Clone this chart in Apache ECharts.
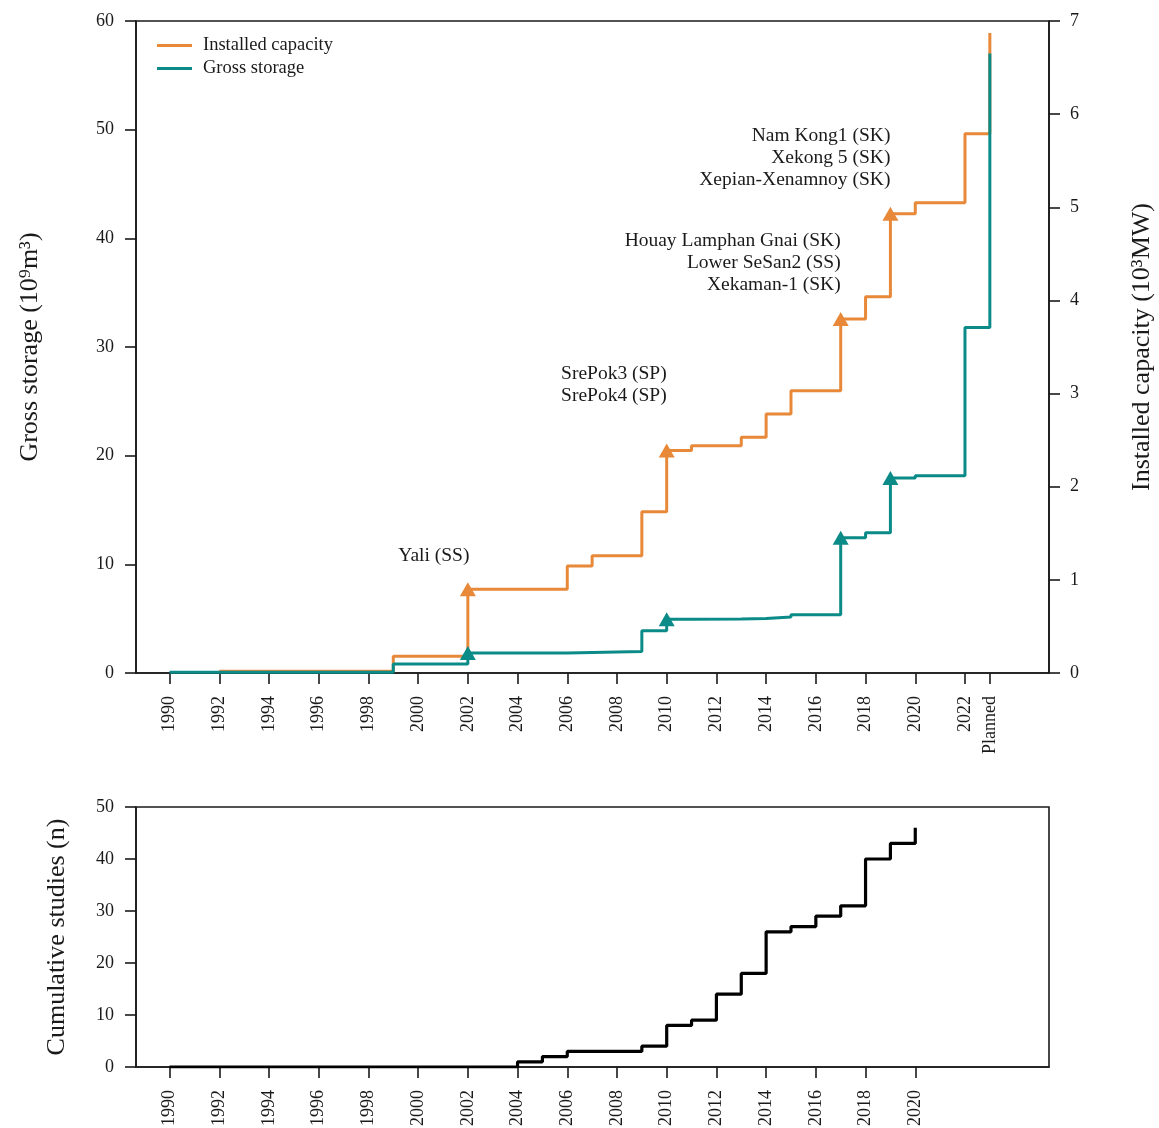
<!DOCTYPE html>
<html>
<head>
<meta charset="utf-8">
<script src="https://cdn.jsdelivr.net/npm/echarts@6/dist/echarts.min.js"></script>
<style>
html,body{margin:0;padding:0;background:#fff;}
#chart{width:1159px;height:1128px;}
</style>
</head>
<body>
<div id="chart"></div>
<script>
// ---------- data ----------
const capYears      = [1992, 1999, 2002, 2006, 2007, 2009, 2010, 2011, 2013, 2014, 2015, 2017, 2018, 2019, 2020, 2022, 2023];
const capValues     = [0.02, 0.18, 0.90, 1.15, 1.26, 1.73, 2.39, 2.44, 2.53, 2.78, 3.03, 3.80, 4.04, 4.93, 5.05, 5.79, 6.87];
const storageYears  = [1990, 1999, 2002, 2006, 2007, 2009, 2010, 2011, 2013, 2014, 2015, 2017, 2018, 2019, 2020, 2022, 2023];
const storageValues = [0.08, 0.82, 1.83, 1.88, 1.97, 3.88, 4.95, 4.97, 5.02, 5.15, 5.35, 12.45, 12.9, 17.95, 18.15, 31.8, 57.0];
const markedYears   = [2002, 2010, 2017, 2019];
const annotations   = {
  2002: 'Yali (SS)',
  2010: 'SrePok3 (SP)\nSrePok4 (SP)',
  2017: 'Houay Lamphan Gnai (SK)\nLower SeSan2 (SS)\nXekaman-1 (SK)',
  2019: 'Nam Kong1 (SK)\nXekong 5 (SK)\nXepian-Xenamnoy (SK)'
};
const studyYears    = [1990, 2004, 2005, 2006, 2009, 2010, 2011, 2012, 2013, 2014, 2015, 2016, 2017, 2018, 2019, 2020];
const studyValues   = [0, 1, 2, 3, 4, 8, 9, 14, 18, 26, 27, 29, 31, 40, 43, 46];
const topTickValues = [1990, 1992, 1994, 1996, 1998, 2000, 2002, 2004, 2006, 2008, 2010, 2012, 2014, 2016, 2018, 2020, 2022, 2023];
const topTickLabels = ['1990','1992','1994','1996','1998','2000','2002','2004','2006','2008','2010','2012','2014','2016','2018','2020','2022','Planned'];
const bottomTickValues = [1990, 1992, 1994, 1996, 1998, 2000, 2002, 2004, 2006, 2008, 2010, 2012, 2014, 2016, 2018, 2020];
const seriesNames = ['Installed capacity', 'Gross storage', 'Cumulative studies'];

// ---------- styles ----------
const FONT = "'Liberation Serif', 'DejaVu Serif', serif";
const ORANGE = '#E8893A';
const TEAL = '#0B8B88';
const INK = '#1a1a1a';
const labelOffsets = {
  2002: {align: 'center', offset: [-34, -10]},
  2010: {align: 'right', offset: [0, -32]},
  2017: {align: 'right', offset: [0, -11]},
  2019: {align: 'right', offset: [0, -11]}
};

function buildData(years, values, withLabels) {
  return years.map((y, i) => {
    const item = {value: [y, values[i]]};
    if (withLabels && annotations[y]) {
      const o = labelOffsets[y];
      item.label = {
        show: true, position: 'top', formatter: annotations[y],
        align: o.align, verticalAlign: 'bottom', offset: o.offset,
        fontFamily: FONT, fontSize: 19.5, lineHeight: 22, color: INK
      };
    }
    return item;
  });
}
function symSize(val) {
  return markedYears.indexOf(val[0]) >= 0 ? [16, 14] : 0;
}

const axisLineStyle = {show: true, lineStyle: {color: INK, width: 1.6}};
const tickStyle = {show: true, inside: false, length: 11, lineStyle: {color: INK, width: 1.6}};
const labelFont = {fontFamily: FONT, fontSize: 18, color: INK};

const chart = echarts.init(document.getElementById('chart'), null, {renderer: 'canvas'});
chart.setOption({
  animation: false,
  backgroundColor: '#fff',
  legend: {
    data: [seriesNames[0], seriesNames[1]],
    orient: 'vertical', left: 152, top: 31,
    icon: 'rect', itemWidth: 35, itemHeight: 3, itemGap: 4,
    textStyle: {fontFamily: FONT, fontSize: 18.5, color: INK, lineHeight: 18, padding: [0, 0, 0, 6]}
  },
  grid: [
    {left: 136, right: 110, top: 21, height: 652, show: true, borderColor: INK, borderWidth: 1.6,
     backgroundColor: 'transparent', outerBoundsMode: 'none', containLabel: false},
    {left: 136, right: 110, top: 807, height: 260, show: true, borderColor: INK, borderWidth: 1.6,
     backgroundColor: 'transparent', outerBoundsMode: 'none', containLabel: false}
  ],
  xAxis: [
    {
      type: 'value', gridIndex: 0, min: 1988.65, max: 2025.38,
      axisLine: axisLineStyle, splitLine: {show: false},
      axisTick: Object.assign({customValues: topTickValues}, tickStyle),
      axisLabel: Object.assign({
        customValues: topTickValues, rotate: 90, margin: 23,
        formatter: v => topTickLabels[topTickValues.indexOf(v)]
      }, labelFont)
    },
    {
      type: 'value', gridIndex: 1, min: 1988.65, max: 2025.38,
      axisLine: axisLineStyle, splitLine: {show: false},
      axisTick: Object.assign({customValues: bottomTickValues}, tickStyle),
      axisLabel: Object.assign({
        customValues: bottomTickValues, rotate: 90, margin: 23,
        formatter: v => String(v)
      }, labelFont)
    }
  ],
  yAxis: [
    {
      type: 'value', gridIndex: 0, position: 'left', min: 0, max: 60, interval: 10,
      name: 'Gross storage (10⁹m³)', nameLocation: 'middle', nameRotate: 90, nameGap: 93,
      nameTextStyle: {fontFamily: FONT, fontSize: 26, color: INK},
      axisLine: axisLineStyle, axisTick: tickStyle, splitLine: {show: false},
      axisLabel: Object.assign({margin: 22}, labelFont)
    },
    {
      type: 'value', gridIndex: 0, position: 'right', min: 0, max: 7, interval: 1,
      name: 'Installed capacity (10³MW)', nameLocation: 'middle', nameRotate: 90, nameGap: 80,
      nameTextStyle: {fontFamily: FONT, fontSize: 26, color: INK},
      axisLine: axisLineStyle, axisTick: tickStyle, splitLine: {show: false},
      axisLabel: Object.assign({margin: 21}, labelFont)
    },
    {
      type: 'value', gridIndex: 1, position: 'left', min: 0, max: 50, interval: 10,
      name: 'Cumulative studies (n)', nameLocation: 'middle', nameRotate: 90, nameGap: 66,
      nameTextStyle: {fontFamily: FONT, fontSize: 26, color: INK},
      axisLine: axisLineStyle, axisTick: tickStyle, splitLine: {show: false},
      axisLabel: Object.assign({margin: 22}, labelFont)
    }
  ],
  series: [
    {
      name: seriesNames[0], type: 'line', step: 'end', xAxisIndex: 0, yAxisIndex: 1,
      data: buildData(capYears, capValues, true),
      symbol: 'triangle', symbolSize: symSize,
      lineStyle: {color: ORANGE, width: 3}, itemStyle: {color: ORANGE},
      z: 2
    },
    {
      name: seriesNames[1], type: 'line', step: 'end', xAxisIndex: 0, yAxisIndex: 0,
      data: buildData(storageYears, storageValues, false),
      symbol: 'triangle', symbolSize: symSize,
      lineStyle: {color: TEAL, width: 3}, itemStyle: {color: TEAL},
      z: 3
    },
    {
      name: seriesNames[2], type: 'line', step: 'end', xAxisIndex: 1, yAxisIndex: 2,
      data: buildData(studyYears, studyValues, false),
      symbol: 'none',
      lineStyle: {color: '#000', width: 3.2}
    }
  ]
});
</script>
</body>
</html>
